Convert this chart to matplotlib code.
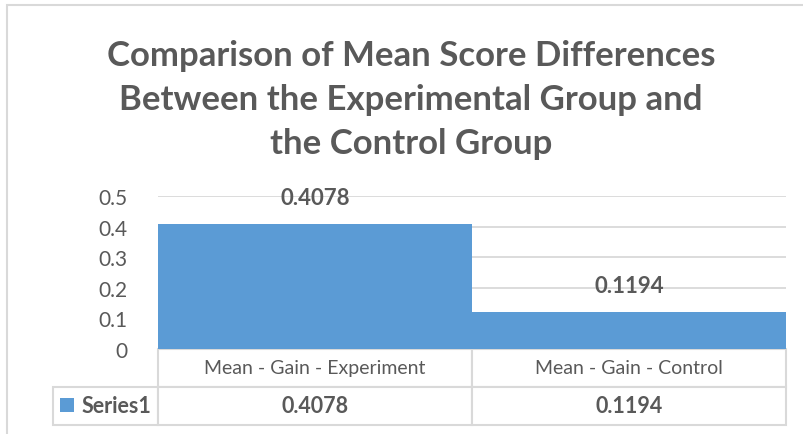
import matplotlib
matplotlib.use('Agg')
import matplotlib.pyplot as plt
from matplotlib.table import Table
from matplotlib.patches import Rectangle

# chart data
categories = ['Mean - Gain - Experiment', 'Mean - Gain - Control']
values = [0.4078, 0.1194]
series_name = 'Series1'
title = 'Comparison of Mean Score Differences\nBetween the Experimental Group and\nthe Control Group'

bar_color = '#5B9BD5'
text_color = '#595959'
line_color = '#D9D9D9'

plt.rcParams['font.family'] = ['Lato', 'DejaVu Sans']

W, H = 804, 435
fig = plt.figure(figsize=(W / 100, H / 100), dpi=100)

# plot area in pixels: x 158..786, y 197..350
ax = fig.add_axes([158 / W, 1 - 350 / H, 628 / W, 153 / H])
x = list(range(len(categories)))
bars = ax.bar(x, values, width=1.0, color=bar_color, zorder=2, label=series_name)
ax.set_xlim(-0.5, len(categories) - 0.5)
ax.set_ylim(0, 0.5)
ax.set_yticks([0, 0.1, 0.2, 0.3, 0.4, 0.5])
ax.set_yticklabels(['0', '0.1', '0.2', '0.3', '0.4', '0.5'])
ax.tick_params(axis='y', length=0, pad=22, labelsize=15, labelcolor=text_color)
ax.set_xticks([])
ax.grid(axis='y', color=line_color, lw=1.3, zorder=0)
for s in ax.spines.values():
    s.set_visible(False)

# data labels
for xi, v in zip(x, values):
    ax.annotate('%.4f' % v, (xi, v), xytext=(0, 19.4), textcoords='offset points',
                ha='center', va='center', fontsize=16, fontweight='bold', color=text_color)

# data table under the plot
col_w = [105, 314, 314]
row_h = 38
tbl = Table(ax, bbox=[-105 / 628, -76 / 153, 733 / 628, 76 / 153])
for j, cat in enumerate(categories):
    c = tbl.add_cell(0, j + 1, col_w[j + 1], row_h, text=cat, loc='center')
    c.get_text().set_color(text_color)
c = tbl.add_cell(1, 0, col_w[0], row_h, text='', loc='center')
for j, v in enumerate(values):
    c = tbl.add_cell(1, j + 1, col_w[j + 1], row_h, text='%.4f' % v, loc='center')
    c.get_text().set_color(text_color)
    c.get_text().set_fontweight('bold')
tbl.auto_set_font_size(False)
tbl.set_fontsize(14)
for (r, col), cell in tbl.get_celld().items():
    cell.set_edgecolor(line_color)
    cell.set_linewidth(1.5)
    if r == 1 and col > 0:
        cell.get_text().set_fontsize(15.5)
ax.add_table(tbl)

# legend key inside the row header cell
ax.legend(handles=[bars], labels=[series_name], loc='center',
          bbox_to_anchor=(-52 / 628, -57 / 153), frameon=False,
          handlelength=0.65, handleheight=0.65, handletextpad=0.35,
          prop={'weight': 'bold', 'size': 15.5}, labelcolor=text_color,
          borderaxespad=0, borderpad=0)

fig.text(411 / W, 1 - 100 / H, title, ha='center', va='center', fontsize=25,
         fontweight='bold', color=text_color, linespacing=1.45)

# chart border
fig.patches.append(Rectangle((7 / W, -0.1), 1.2, 1.1 - 6 / H, transform=fig.transFigure,
                             fill=False, edgecolor=line_color, lw=1.5))

fig.savefig('out.png', dpi=100)
